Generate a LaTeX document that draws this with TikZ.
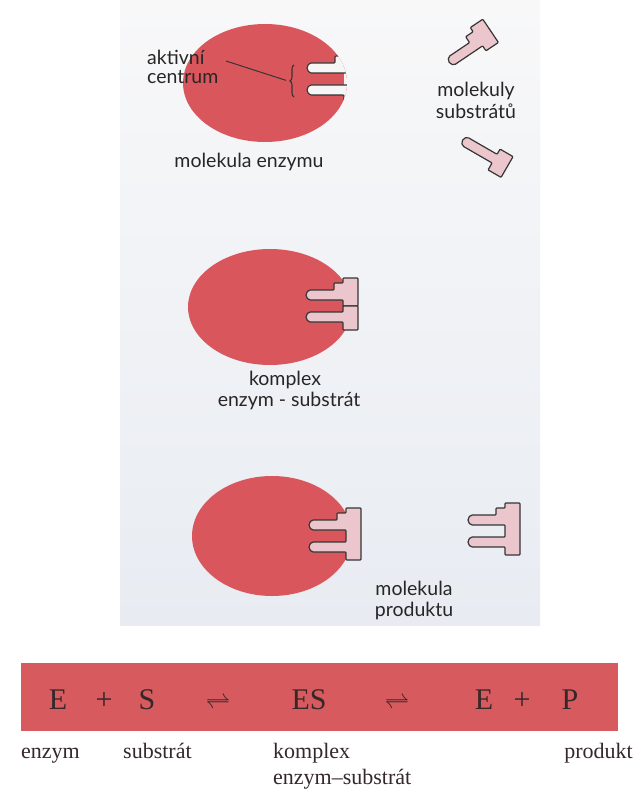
\documentclass[tikz,border=0pt]{standalone}
\usepackage{fontspec}
\setmainfont{Liberation Serif}
\newfontfamily\labelsans{Lato}
\usetikzlibrary{decorations.pathreplacing}

\definecolor{enzred}{HTML}{D9575C}
\definecolor{barred}{HTML}{D65A5E}
\definecolor{subpink}{HTML}{ECC6CD}
\definecolor{inkline}{HTML}{353535}
\definecolor{labelink}{HTML}{262626}
\definecolor{eqink}{HTML}{35282A}
\definecolor{paneltop}{HTML}{F8F8F9}
\definecolor{panelbot}{HTML}{E8ECF2}
\definecolor{cavity}{HTML}{F6F6F7}

\tikzset{
  enzyme/.style={fill=enzred, draw=none},
  keybody/.style={fill=subpink, draw=inkline, line width=1.2pt, line join=round, rounded corners=0.8pt},
  siteline/.style={draw=inkline, line width=1.1pt, line join=round, rounded corners=0.8pt},
  lbl/.style={font=\labelsans\fontsize{19.5}{22}\selectfont, text=labelink, inner sep=0pt},
  eqn/.style={font=\fontsize{30}{32}\selectfont, text=eqink, inner sep=0pt, anchor=base},
  capt/.style={font=\fontsize{22}{26}\selectfont, text=eqink, inner sep=0pt},
  % whole substrate/product molecule, origin at the outer top corner of the bar
  keyfull/.pic={
    \path[keybody] (0,0) -- (-15,0) -- (-15,5) -- (-24,5) -- (-24,12) -- (-47,12)
      arc[start angle=-90, end angle=-270, radius=5] -- (-15,22) -- (-15,34) -- (-47,34)
      arc[start angle=-90, end angle=-270, radius=5] -- (-15,44) -- (-15,52) -- (0,52) -- cycle;
  },
  % upper substrate piece (with the shoulder)
  subupper/.pic={
    \path[keybody] (0,0) -- (-15,0) -- (-15,5) -- (-24,5) -- (-24,12) -- (-47,12)
      arc[start angle=-90, end angle=-270, radius=5] -- (-15,22) -- (-15,28) -- (0,28) -- cycle;
  },
  % lower substrate piece
  sublower/.pic={
    \path[keybody] (0,28) -- (-15,28) -- (-15,34) -- (-47,34)
      arc[start angle=-90, end angle=-270, radius=5] -- (-15,44) -- (-15,52) -- (0,52) -- cycle;
  },
}

\begin{document}
\begin{tikzpicture}[x=1pt, y=-1pt]
  \useasboundingbox (0,0) rectangle (635,791);
  \fill[white] (0,0) rectangle (635,791);

  % scanned panel with the three stages
  \shade[top color=paneltop, bottom color=panelbot] (120,0) rectangle (540,625);

  % ---- stage 1: free enzyme and two substrate molecules ----
  \fill[enzyme] (265,83) ellipse[x radius=82, y radius=59];
  \begin{scope}
    \clip (265,83) ellipse[x radius=82, y radius=59];
    \begin{scope}[shift={(359,51)}]
      \fill[cavity] (0,0) -- (-15,0) -- (-15,5) -- (-24,5) -- (-24,12) -- (-47,12)
        arc[start angle=-90, end angle=-270, radius=5] -- (-15,22) -- (-15,34) -- (-47,34)
        arc[start angle=-90, end angle=-270, radius=5] -- (-15,44) -- (-15,52) -- (0,52) -- cycle;
      \draw[siteline] (-15,-4) -- (-15,5) -- (-24,5) -- (-24,12) -- (-47,12)
        arc[start angle=-90, end angle=-270, radius=5] -- (-12,22);
      \draw[siteline] (-12,34) -- (-47,34)
        arc[start angle=-90, end angle=-270, radius=5] -- (-15,44) -- (-15,60);
    \end{scope}
  \end{scope}

  \coordinate (bracebot) at (294,97);
  \coordinate (bracetop) at (294,65);
  \coordinate (bracetip) at (288,81);
  \coordinate (leadstart) at (226,61);
  \draw[inkline, line width=1.1pt, decorate, decoration={brace, amplitude=4pt}] (bracebot) -- (bracetop);
  \draw[inkline, line width=1pt, shorten >=2pt] (leadstart) -- (bracetip);

  \node[lbl, anchor=base west] (siteA) at (147,65) {aktivní};
  \node[lbl, anchor=base west] (siteB) at (147,84) {centrum};
  \node[lbl, anchor=base] (enzname) at (249,168) {molekula enzymu};

  \begin{scope}[shift={(474,42)}, rotate=34, shift={(20,-14)}, transform shape]
    \pic {subupper};
  \end{scope}
  \begin{scope}[shift={(488,156)}, rotate=-30, shift={(22,-40)}, transform shape]
    \pic {sublower};
  \end{scope}
  \node[lbl, anchor=base] (subsA) at (476,97) {molekuly};
  \node[lbl, anchor=base] (subsB) at (476,119) {substrátů};

  % ---- stage 2: enzyme-substrate complex ----
  \fill[enzyme] (270,307) ellipse[x radius=82, y radius=58];
  \begin{scope}[shift={(358,278)}]
    \pic {subupper};
    \pic {sublower};
  \end{scope}
  \node[lbl, anchor=base] (cplxA) at (285,385) {komplex};
  \node[lbl, anchor=base] (cplxB) at (289,406) {enzym - substrát};

  % ---- stage 3: enzyme releases the product ----
  \fill[enzyme] (272,536) ellipse[x radius=80, y radius=60];
  \begin{scope}[shift={(361,508)}]
    \pic {keyfull};
  \end{scope}
  \begin{scope}[shift={(520,503)}]
    \pic {keyfull};
  \end{scope}
  \node[lbl, anchor=base] (prodA) at (414,595) {molekula};
  \node[lbl, anchor=base] (prodB) at (414,616) {produktu};

  % ---- reaction scheme ----
  \fill[barred] (21,663) rectangle (618,731);
  \node[eqn] (e1) at (58,709) {E};
  \node[eqn] (p1) at (104,709) {+};
  \node[eqn] (s1) at (147,709) {S};
  \node[eqn] (r1) at (218,709) {$\rightleftharpoons$};
  \node[eqn] (es) at (309,709) {ES};
  \node[eqn] (r2) at (397,709) {$\rightleftharpoons$};
  \node[eqn] (e2) at (484,709) {E};
  \node[eqn] (p2) at (522,709) {+};
  \node[eqn] (pp) at (570,709) {P};

  \node[capt, anchor=base west] (cE) at (21,758) {enzym};
  \node[capt, anchor=base west] (cS) at (123,758) {substrát};
  \node[capt, anchor=base west] (cES1) at (273,758) {komplex};
  \node[capt, anchor=base west] (cES2) at (273,784) {enzym–substrát};
  \node[capt, anchor=base east] (cP) at (633,758) {produkt};
\end{tikzpicture}
\end{document}
